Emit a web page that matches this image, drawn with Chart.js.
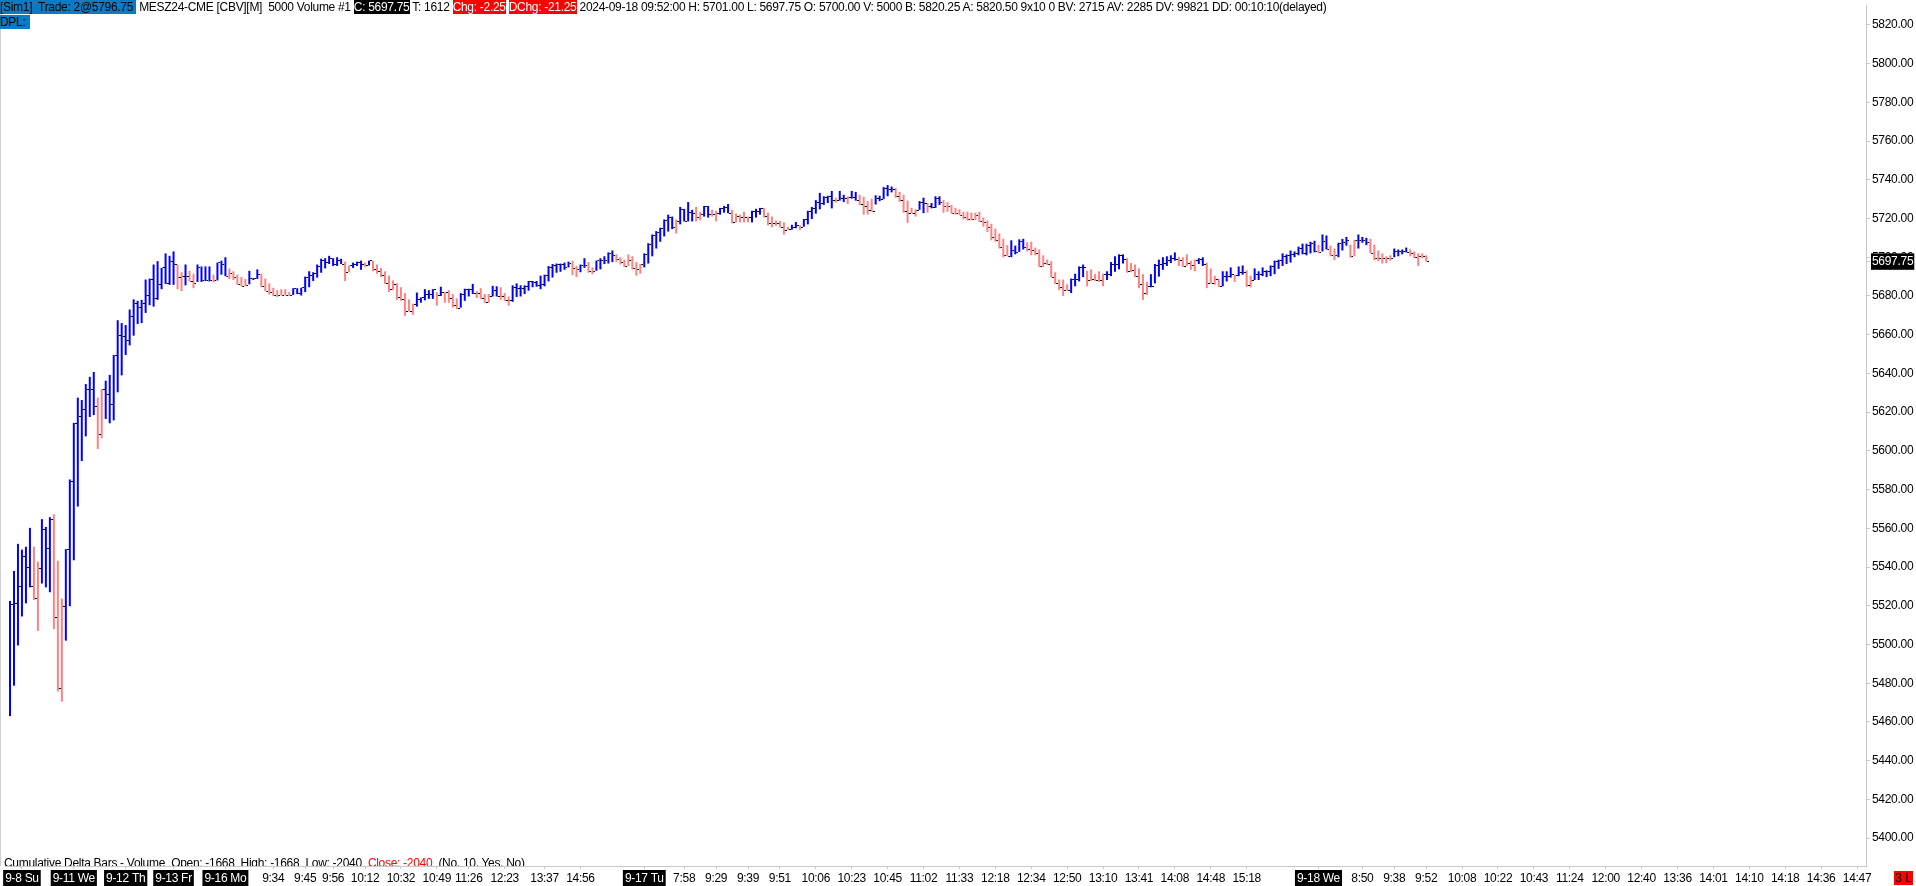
<!DOCTYPE html>
<html>
<head>
<meta charset="utf-8">
<script src="https://cdn.jsdelivr.net/npm/chart.js@4.4.1/dist/chart.umd.min.js"></script>
<style>
html, body { margin: 0; padding: 0; background: #fff; overflow: hidden; }
#wrap { position: relative; width: 1916px; height: 886px; }
#chart { position: absolute; left: 0; top: 0; }
.txt { position: absolute; left: 0; font: 12px "Liberation Sans", Arial, sans-serif; letter-spacing: -0.3px; line-height: 14px; white-space: pre; color: #000; }
.bl { background: #0a7cc6; color: #000; }
.bk { background: #000; color: #fff; }
.rd { background: #f00; color: #fff; }
#study { position: absolute; left: 4px; top: 856px; height: 10px; overflow: hidden; font: 12px "Liberation Sans", Arial, sans-serif; letter-spacing: -0.3px; line-height: 14px; white-space: pre; }
#leftEdge { position: absolute; left: 0; top: 0; width: 1px; height: 866px; background: #d0d0d0; }
#tag { position: absolute; left: 1894px; top: 871px; width: 19px; height: 14px; background: #f00; color: #000; font: 12px "Liberation Sans", Arial, sans-serif; line-height: 14px; text-align: center; }
</style>
</head>
<body>
<div id="wrap">
  <canvas id="chart" width="1916" height="886"></canvas>
  <div id="leftEdge"></div>
  <div class="txt" style="top:0"><span class="bl">[Sim1]  Trade: 2@5796.75 </span> MESZ24-CME [CBV][M]  5000 Volume #1 <span class="bk">C: 5697.75</span> T: 1612 <span class="rd">Chg: -2.25</span> <span class="rd">DChg: -21.25</span> 2024-09-18 09:52:00 H: 5701.00 L: 5697.75 O: 5700.00 V: 5000 B: 5820.25 A: 5820.50 9x10 0 BV: 2715 AV: 2285 DV: 99821 DD: 00:10:10(delayed)</div>
  <div class="txt" style="top:15px"><span class="bl" style="display:inline-block;width:30px">DPL:</span></div>
  <div id="study">Cumulative Delta Bars - Volume  Open: -1668  High: -1668  Low: -2040  <span style="color:#f00">Close: -2040</span>  (No, 10, Yes, No)</div>
  <div id="tag">3 L</div>
</div>
<script>
// bar values, one entry per 5000-volume bar
const highs = [
  5522.5,5538,5552,5549,5550.5,5560.25,5550.5,5542.75,5564.75,5560.75,5565.75,5567.25,5543.25,5523.75,5549.25,5585.25,5614.5,5627.5,5626.25,5634.5,
  5638.25,5640.75,5627.5,5632,5636.25,5639.25,5649.5,5667.5,5666,5665,5673,5678.25,5677.5,5678,5688.5,5689,5696.25,5698,5694.5,5702,
  5700.75,5703,5696.25,5692.25,5696.25,5693,5691.5,5696.25,5695.25,5695.25,5695.25,5691,5697.25,5698.25,5700,5694.25,5692.75,5691,5689.75,5688.75,
  5693,5689.25,5693.75,5691.5,5689,5686.5,5684.25,5683,5683.5,5683.5,5682,5684,5684,5684.25,5690,5692.75,5692.25,5696.25,5699.25,5699.5,
  5700.75,5699.5,5700,5699.25,5697.75,5695.75,5697.25,5697.75,5698.25,5697.25,5698.25,5698.25,5696.25,5694.5,5692.75,5690.5,5688,5686.5,5684.5,5681.5,
  5678.25,5676,5681.75,5679.25,5683.5,5683,5683.5,5682,5684.75,5682,5683,5681,5678.75,5681.5,5683.75,5683.75,5686.25,5682.5,5684,5681,
  5681,5685.25,5685,5684.5,5681.5,5679.75,5685.5,5686.5,5685.5,5685.5,5687.75,5687.75,5687.75,5690.5,5691,5695.5,5696.5,5696.75,5696.75,5697.25,
  5697.75,5698.25,5695.5,5696.25,5699.5,5697.5,5694.75,5698.25,5699.5,5700.5,5702.5,5703.5,5701.5,5700,5698.75,5701.5,5700.5,5697.5,5696.5,5702,
  5707.25,5711.75,5713.5,5715.25,5719.5,5722,5721,5719.5,5726,5725,5728.5,5724.5,5726,5723.5,5726.5,5726.5,5724.5,5724,5725.5,5726.5,
  5727.5,5724.5,5722.5,5722,5723.5,5721,5724,5725,5725.5,5725.5,5723,5721,5719,5718.75,5718,5715.75,5716.75,5718.25,5716.5,5719.75,
  5724,5726,5729.5,5733.25,5731.5,5731.75,5734.25,5730.75,5734.25,5732.25,5731.5,5734.25,5733.75,5732.25,5731.25,5729,5730.25,5732,5731.75,5736.25,
  5737.25,5736.5,5735.75,5733.75,5732.25,5729.25,5725.5,5724.75,5729,5730.75,5728,5728,5731.5,5731.5,5729.5,5728.5,5727,5725.5,5724.75,5723.5,
  5723.5,5723,5723,5723.5,5720.5,5719,5717.25,5714.75,5712.25,5709.5,5706.25,5708.75,5706,5709.25,5709.5,5707.75,5708,5705,5704,5701,
  5698.75,5698,5692.25,5688.5,5688.5,5686,5689,5691.5,5695.25,5696.25,5693,5693.75,5691.25,5692.75,5691.5,5692.75,5697.5,5700.5,5701.5,5701.5,
  5699.5,5697,5696.25,5694.25,5691.25,5687.25,5691.25,5696.5,5698.75,5700,5700.5,5701,5702.5,5700.25,5700,5701.5,5698.25,5698.75,5699.5,5700,
  5697.25,5694.25,5690.5,5689,5692.75,5692.75,5694.75,5691,5695.25,5695.75,5693.25,5690.5,5694.25,5692.75,5694.75,5693.25,5695.75,5698.25,5698.75,5702,
  5701.5,5703.5,5703,5705.5,5707,5707,5708,5708.5,5706.5,5711.75,5711.25,5706,5704.5,5707.5,5709.5,5710.5,5706.5,5709,5711.75,5710.5,
  5710,5709.5,5706.5,5703.5,5702,5700.5,5701,5704.5,5704,5704,5705,5704,5703,5702,5702,5701
];
const lows = [
  5463,5478.75,5499.5,5514.5,5521.25,5529.5,5523,5507,5531.5,5529.5,5527,5508,5475.75,5470.5,5502,5519.75,5543.5,5571.25,5594.75,5607.5,
  5617.5,5618.5,5601,5606.5,5616.5,5614.25,5615.75,5630.25,5639,5649.5,5654.5,5659.5,5665.5,5666,5671.25,5675.25,5674.5,5678,5683.5,5686.25,
  5685.75,5685.75,5683.5,5682.5,5685.5,5687.5,5684,5687.25,5687.25,5687.75,5687.5,5687,5688,5691,5690.25,5688.75,5688.25,5685.75,5685,5685,
  5686,5688.25,5688.75,5684.5,5682.5,5680.75,5680,5679.5,5680.25,5680.25,5680,5680.5,5681,5680.25,5682,5684.5,5687.75,5689.5,5692,5694.25,
  5696.5,5695.5,5695.5,5696.5,5687.75,5692.25,5694.5,5695.5,5693.5,5695,5695.75,5692.75,5691.5,5689.75,5686.25,5682,5683,5678,5677.5,5669.75,
  5672,5670.25,5674.5,5676.5,5677.75,5678.5,5678.5,5675,5680,5676.5,5676.5,5674,5673.25,5674,5677.5,5679.75,5681,5679,5678.5,5676.5,
  5676.5,5679.75,5679.75,5678,5677.5,5675,5677,5679.5,5679.75,5681,5682.75,5684.5,5684.75,5683.5,5685,5687.5,5689.5,5692,5692.5,5693.5,
  5694.75,5690.75,5689.75,5692.25,5694.5,5692,5691.25,5693,5693.75,5696.5,5696.75,5697.5,5697.5,5696.25,5695,5695.5,5693.75,5690.5,5691.5,5694.75,
  5696.75,5700.5,5704.5,5708,5710.75,5713.25,5714.5,5712.25,5717,5718.5,5718.5,5718.5,5718.5,5719,5721,5720.5,5721,5718.5,5722,5723,
  5722.75,5717.5,5718,5718,5718,5718,5718,5720.5,5722,5720.5,5716.5,5715.5,5716.25,5715.5,5711.75,5714,5714.25,5715,5714,5715.75,
  5717,5719.75,5722.5,5724.75,5727,5728,5725.25,5728.25,5729.25,5728.5,5727.5,5730.25,5729.25,5727,5722,5722,5723.5,5727.25,5729,5730,
  5731.5,5733.5,5730.75,5728.5,5723,5717.75,5722.75,5721,5724.5,5722.75,5723,5725.25,5725.5,5727,5723,5723.5,5722.5,5722,5721.75,5719.5,
  5719,5719,5719.25,5718.25,5715.75,5713,5708.75,5708,5704.5,5700,5700.5,5700,5701.5,5702.75,5704,5703,5701,5701,5695,5695,
  5696,5689.5,5686.25,5683,5680,5682.75,5681.5,5685,5687.5,5689.75,5685,5687.75,5687.75,5687.25,5685,5688.25,5690.25,5692.5,5693.75,5696.75,
  5692,5692.25,5689.75,5684,5678,5680.5,5684.5,5686.5,5690,5693.5,5695.5,5697,5698.25,5695.5,5695,5695.5,5693.5,5692.75,5696.5,5695.5,
  5684,5686.5,5685.75,5684.75,5685,5687.5,5689.5,5687.25,5690.25,5691,5684.75,5684.5,5688.25,5688.25,5690.25,5689.75,5690.25,5691.25,5694,5695.5,
  5696.5,5697.25,5700,5701,5701.5,5701,5702,5702.5,5702,5703,5704,5700.5,5698.5,5700,5703.5,5706,5699.75,5700.5,5704.5,5707.5,
  5706.25,5702,5698.5,5698,5696.75,5697,5698.25,5700,5700.5,5701.5,5702.5,5700.5,5699.5,5695.5,5699.5,5697.75
];
const closes = [
  5520.5,5521.25,5530,5545.5,5540,5530,5524,5539.5,5559.25,5549.75,5564.5,5514,5477.5,5519.5,5549.25,5584.25,5614,5617.5,5621.25,5631.75,
  5631.75,5622.75,5608.5,5631.75,5629.25,5623.75,5649.5,5659.75,5659.25,5657.25,5669.5,5676.25,5674,5676.25,5680.25,5688.75,5678.5,5685.75,5694.5,5686.25,
  5698,5696,5689.5,5690.25,5690.25,5687.5,5686.5,5694.5,5688.25,5687.75,5687.75,5687.75,5697.25,5696.5,5690.25,5691.5,5689.5,5685.75,5685,5685.5,
  5689.25,5689.25,5691,5685,5682.5,5681.75,5680.25,5680.25,5680.25,5680.5,5680.5,5684,5681.5,5684.25,5689.5,5690.5,5691.75,5695,5698.5,5697.5,
  5699.5,5696,5698.5,5696.5,5692,5695.5,5696.5,5697.5,5696.5,5695.75,5698.25,5693.5,5692.75,5690.5,5686.25,5683.5,5685.75,5679.25,5678,5672,
  5672,5675.5,5678.25,5679,5681,5681,5683.5,5680.25,5681.75,5681.75,5678.5,5675,5673.75,5681,5683.5,5683.5,5681.5,5681.25,5678.75,5676.5,
  5679.75,5682.75,5679.75,5679.75,5677.5,5677.5,5684.5,5683.75,5683.75,5684.75,5687.5,5687,5685.5,5685.75,5690.5,5694.75,5695.5,5696.5,5696.5,5694.75,
  5697,5694.25,5693.5,5695.5,5695.5,5692.75,5692.75,5698.25,5698.5,5698.25,5702,5701,5698.75,5697.25,5695,5698.5,5694,5693.5,5696,5701.5,
  5706.75,5711,5713,5714.75,5718.75,5720.5,5715.25,5718.5,5724.5,5718.5,5723,5722.5,5720.5,5722,5726,5722,5722,5722.5,5725,5725.5,
  5722.75,5718,5721,5720.5,5720.5,5720.5,5723.5,5723.5,5725,5721,5717.5,5717.5,5717.5,5715.5,5714,5714.25,5715.5,5716.25,5715.5,5719.5,
  5723.5,5725,5728.5,5728,5731,5731.25,5729.5,5729.5,5730.5,5730.25,5730.75,5731,5729.25,5727.25,5726,5724.25,5723.5,5730.25,5730,5735.5,
  5734.75,5735,5731.5,5729.25,5723.5,5722.75,5722.75,5724.25,5728.5,5727.5,5726,5725.5,5730.25,5728.25,5726.25,5726,5722.75,5722.5,5721.75,5720.5,
  5719.5,5719.25,5721.5,5718.25,5717.75,5715.5,5710,5708.5,5705,5701,5700.5,5703.5,5702.25,5708.25,5705,5704,5703.5,5702,5695,5696.75,
  5696.5,5689.5,5686.5,5684.5,5683,5683,5688.75,5688.75,5694.5,5694.5,5688.25,5688.75,5688.25,5687.75,5691.25,5691.25,5696.5,5696.5,5701,5698.75,
  5692.75,5693,5690,5685.75,5681.25,5685,5685,5695.75,5696,5696.75,5698.5,5699.5,5698.75,5698.5,5695,5697,5695.5,5698.5,5698.75,5696.5,
  5686.5,5686.5,5688.5,5684.75,5690.25,5690.25,5691.25,5690.5,5692.25,5692.25,5685.25,5688.25,5691.25,5691.25,5692.75,5692.75,5695.25,5697.75,5698.25,5700.5,
  5701,5701.5,5702,5704.5,5702,5706.25,5707,5703,5702.5,5708,5704.25,5701,5701,5707,5707.75,5708.75,5700.25,5708.75,5708.5,5708.5,
  5707.5,5702,5699.25,5699.25,5699.25,5699.25,5699.25,5703,5703,5703,5702.5,5702,5700,5700.25,5700.25,5697.75
];
// 1 = blue bar, 0 = pink bar
const upBars = [
  1,1,1,1,1,1,0,0,1,1,1,0,0,0,1,1,1,1,1,1, 1,1,0,0,1,1,1,1,1,1,1,1,1,1,1,1,1,1,1,1,
  1,1,0,0,1,0,0,1,1,1,1,0,1,1,1,0,0,0,0,0, 1,1,1,0,0,0,0,0,0,0,0,1,1,1,1,1,1,1,1,1,
  1,1,1,1,0,0,1,1,1,0,1,0,0,0,0,0,0,0,0,0, 0,0,1,1,1,1,1,0,1,0,0,0,0,1,1,1,1,0,0,0,
  0,1,1,0,0,0,1,1,1,1,1,1,1,1,1,1,1,1,1,1, 1,0,0,1,1,0,0,1,1,1,1,1,0,0,0,0,0,0,0,1,
  1,1,1,1,1,1,1,0,1,1,1,1,0,0,1,1,0,0,1,1, 1,0,0,0,0,0,1,1,1,0,0,0,0,0,0,0,1,1,0,1,
  1,1,1,1,1,1,1,0,1,1,0,1,1,0,0,0,0,1,1,1, 1,1,0,0,0,0,0,0,1,1,0,1,1,1,0,0,0,0,0,0,
  0,0,0,0,0,0,0,0,0,0,0,1,1,1,1,0,0,0,0,0, 0,0,0,0,0,0,1,1,1,1,0,0,0,0,0,1,1,1,1,1,
  0,0,0,0,0,0,1,1,1,1,1,1,1,0,0,0,0,0,1,1, 0,0,0,0,1,1,1,0,1,1,0,0,1,1,1,1,1,1,1,1,
  1,1,1,1,1,1,1,1,0,1,1,0,0,1,1,1,0,0,1,1, 1,0,0,0,0,0,0,1,1,1,1,0,0,0,0,0
];
// x axis labels and the bar slot they sit under
const tickIdx = [3,16,29,41,54,66,74,81,89,98,107,115,124,134,143,
  159,169,177,185,193,202,211,220,229,238,247,256,265,274,283,292,301,310,
  328,339,347,355,364,373,382,391,400,409,418,427,436,445,454,463];
const tickText = ['9-8 Su','9-11 We','9-12 Th','9-13 Fr','9-16 Mo','9:34','9:45','9:56','10:12','10:32','10:49','11:26','12:23','13:37','14:56',
  '9-17 Tu','7:58','9:29','9:39','9:51','10:06','10:23','10:45','11:02','11:33','12:18','12:34','12:50','13:10','13:41','14:08','14:48','15:18',
  '9-18 We','8:50','9:38','9:52','10:08','10:22','10:43','11:24','12:00','12:40','13:36','14:01','14:10','14:18','14:36','14:47'];
const priceTicks = [5400,5420,5440,5460,5480,5500,5520,5540,5560,5580,5600,5620,5640,5660,5680,5700,5720,5740,5760,5780,5800,5820];
const lastPrice = 5697.75;

const barData = highs.map((h, i) => ({ x: i, y: [lows[i], h] }));
const closeData = closes.map((c, i) => ({ x: i, y: c }));

// close tick: small black dash on the right side of each bar
const tickImg = document.createElement('canvas');
tickImg.width = 6; tickImg.height = 1;
const tc = tickImg.getContext('2d');
tc.fillStyle = '#000';
tc.fillRect(4, 0, 2, 1);

const isDate = t => t && t.indexOf('-') > 0;
const fnt = { family: 'Liberation Sans', size: 12 };

// the platform font is a bit narrower than Liberation Sans
const tightText = {
  id: 'tightText',
  beforeUpdate: c => { c.ctx.letterSpacing = '-0.3px'; },
  beforeDraw: c => { c.ctx.letterSpacing = '-0.3px'; }
};

new Chart(document.getElementById('chart'), {
  type: 'bar',
  data: {
    datasets: [
      { type: 'scatter', data: closeData, pointStyle: tickImg, pointRadius: 3, showLine: false, order: 1 },
      { type: 'bar', data: barData, order: 2,
        backgroundColor: upBars.map(u => u ? '#0000ff' : '#ff8080'),
        barThickness: 2, grouped: false, inflateAmount: 0, borderWidth: 0 }
    ]
  },
  options: {
    responsive: false,
    devicePixelRatio: 1,
    animation: false,
    events: [],
    layout: { padding: 0 },
    plugins: { legend: { display: false }, tooltip: { enabled: false } },
    scales: {
      x: {
        type: 'linear', offset: false, min: -1.25, max: 465.25,
        afterBuildTicks: s => { s.ticks = tickIdx.map(v => ({ value: v })); },
        afterFit: s => { s.height = 20; s.paddingLeft = 0; s.paddingRight = 0; },
        border: { color: '#c8c8c8' },
        grid: { drawOnChartArea: false, tickLength: 3, color: '#c8c8c8', offset: false },
        ticks: {
          autoSkip: false, maxRotation: 0, minRotation: 0, padding: 2, font: fnt,
          callback: v => tickText[tickIdx.indexOf(v)],
          color: c => isDate(c.tick.label) ? '#fff' : '#000',
          showLabelBackdrop: c => isDate(c.tick.label),
          backdropColor: '#000',
          backdropPadding: { left: 2, right: 2, top: 1, bottom: 1 }
        }
      },
      y: {
        position: 'right', min: 5385.62, max: 5830.27,
        afterBuildTicks: s => { s.ticks = priceTicks.map(v => ({ value: v })).concat([{ value: lastPrice }]); },
        afterFit: s => { s.width = 50; s.paddingTop = 0; s.paddingBottom = 0; },
        border: { color: '#c8c8c8' },
        grid: { drawOnChartArea: false, tickLength: 4, color: '#c8c8c8' },
        ticks: {
          autoSkip: false, padding: 2, font: fnt,
          callback: v => v.toFixed(2),
          color: c => c.tick.value === lastPrice ? '#fff' : '#000',
          showLabelBackdrop: c => c.tick.value === lastPrice,
          backdropColor: '#000',
          backdropPadding: { left: 1, right: 1, top: 1, bottom: 1 }
        }
      }
    }
  },
  plugins: [tightText]
});
</script>
</body>
</html>
